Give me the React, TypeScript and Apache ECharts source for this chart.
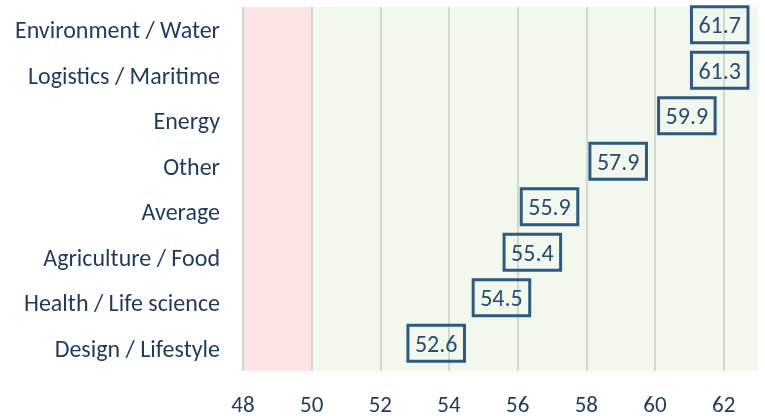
import React, { useEffect, useRef } from "react";
import * as echarts from "echarts";

const categories = [
  "Environment / Water",
  "Logistics / Maritime",
  "Energy",
  "Other",
  "Average",
  "Agriculture / Food",
  "Health / Life science",
  "Design / Lifestyle",
];
const values = [61.7, 61.3, 59.9, 57.9, 55.9, 55.4, 54.5, 52.6];
const axisMin = 48;
const axisMax = 63;
const axisInterval = 2;
const lowZone = [48, 50];
const highZone = [50, 63];

const FONT = "Carlito, Lato, 'Open Sans', sans-serif";
const LABEL_FONT_SIZE = 24;
const LABEL_PAD_X = 7;
const LABEL_BORDER = 1.5;
const LABEL_DIST = 7;

function measure(text: string): number {
  const c = document.createElement("canvas");
  const ctx = c.getContext("2d");
  if (!ctx) return text.length * 12;
  ctx.font = `${LABEL_FONT_SIZE}px ${FONT}`;
  return ctx.measureText(text).width;
}

export default function App() {
  const ref = useRef<HTMLDivElement>(null);
  useEffect(() => {
    if (!ref.current) return;
    const chart = echarts.init(ref.current, null, { renderer: "svg" });
    const baseLabel = {
      show: true,
      position: "right",
      distance: LABEL_DIST,
      offset: [0, -5],
      formatter: (p: any) => p.value.toFixed(1),
      color: "#284d73",
      fontFamily: FONT,
      fontSize: LABEL_FONT_SIZE,
      lineHeight: 24,
      padding: [6, LABEL_PAD_X],
      borderColor: "#2d5a80",
      borderWidth: LABEL_BORDER,
      backgroundColor: "transparent",
    };
    const build = (offsets: number[]) => ({
      animation: false,
      grid: { left: 243, right: 7, top: 7, bottom: 45, containLabel: false },
      xAxis: {
        type: "value",
        min: axisMin,
        max: axisMax,
        interval: axisInterval,
        z: 1,
        axisLine: { show: false },
        axisTick: { show: false },
        splitLine: {
          show: true,
          showMaxLine: false,
          lineStyle: { color: "#d3d9cf", width: 2 },
        },
        axisLabel: {
          color: "#1f3a5f",
          fontFamily: FONT,
          fontSize: 23,
          margin: 21,
          showMaxLabel: false,
        },
      },
      yAxis: {
        type: "category",
        data: categories,
        inverse: true,
        axisLine: { show: false },
        axisTick: { show: false },
        splitLine: { show: false },
        axisLabel: {
          color: "#1f3a5f",
          fontFamily: FONT,
          fontSize: 24,
          margin: 23,
        },
      },
      series: [
        {
          type: "bar",
          z: 2,
          barWidth: "60%",
          itemStyle: { color: "transparent" },
          data: values.map((v, i) => ({
            value: v,
            label: { ...baseLabel, offset: [offsets[i] || 0, -5] },
          })),
          label: baseLabel,
          markArea: {
            silent: true,
            z: 0,
            data: [
              [
                { xAxis: lowZone[0], itemStyle: { color: "#fde5e5" } },
                { xAxis: lowZone[1] },
              ],
              [
                { xAxis: highZone[0], itemStyle: { color: "#f3f8ee" } },
                { xAxis: highZone[1] },
              ],
            ],
          },
        },
      ],
    });
    chart.setOption(build([]) as any);
    const rightLimit =
      (chart.convertToPixel({ xAxisIndex: 0 }, axisMax) as number) - 7;
    const offsets = values.map((v) => {
      const px = chart.convertToPixel({ xAxisIndex: 0 }, v) as number;
      const w = measure(v.toFixed(1)) + LABEL_PAD_X * 2 + LABEL_BORDER * 2;
      const right = px + LABEL_DIST + w;
      return Math.min(0, rightLimit - right);
    });
    chart.setOption(build(offsets) as any, true);
    return () => chart.dispose();
  }, []);
  return (
    <div
      ref={ref}
      style={{ position: "fixed", left: 0, top: 0, width: 765, height: 416 }}
    />
  );
}
